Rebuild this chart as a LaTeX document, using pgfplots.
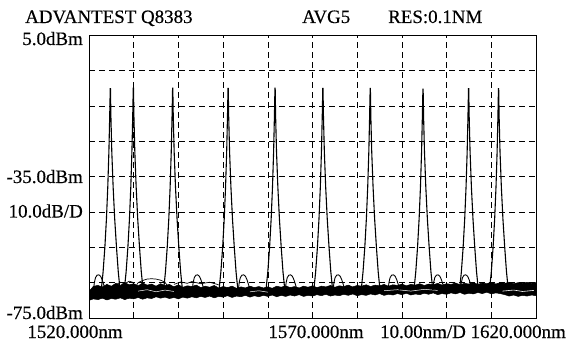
\documentclass[border=0pt]{standalone}
\usepackage{fontspec}
\setmainfont[FakeBold=0.4]{Liberation Serif}
\usepackage{pgfplots}
\pgfplotsset{compat=1.18}
\begin{document}
\begin{tikzpicture}
\begin{axis}[
  at={(89bp,25bp)}, anchor=south west,
  scale only axis, width=447bp, height=283bp,
  xmin=1520, xmax=1620, ymin=-75, ymax=5,
  xtick={1530,1540,...,1610}, ytick={-65,-55,...,-5},
  xticklabels={}, yticklabels={},
  major tick length=0pt,
  grid=major,
  major grid style={black, line width=0.5pt, dash pattern=on 6bp off 4bp},
  axis line style={line width=1pt},
  clip=true,
]
% noise band (envelope of overlaid sweeps): upper edge forward, lower edge back
\addplot[fill=black, draw=black, line width=0.5pt] table {
1520 -67.5
1521 -66.0
1522 -65.8
1523 -66.2
1524 -65.5
1525 -66.0
1526 -65.2
1527 -65.8
1528 -65.0
1529 -65.6
1530 -65.3
1531 -65.9
1532 -65.1
1533 -65.7
1534 -65.4
1535 -66.0
1536 -65.3
1537 -65.8
1538 -65.5
1539 -66.2
1540 -65.6
1541 -66.3
1542 -65.9
1543 -66.1
1544 -65.7
1545 -66.4
1546 -66.0
1547 -66.3
1548 -65.8
1549 -66.5
1550 -66.1
1551 -66.4
1552 -66.0
1553 -66.6
1554 -66.2
1555 -66.5
1556 -66.0
1557 -66.4
1558 -66.1
1559 -66.5
1560 -66.2
1561 -66.6
1562 -66.0
1563 -66.3
1564 -65.9
1565 -66.4
1566 -66.1
1567 -66.5
1568 -66.0
1569 -66.3
1570 -65.9
1571 -66.4
1572 -66.0
1573 -66.2
1574 -65.8
1575 -66.3
1576 -65.9
1577 -66.1
1578 -65.7
1579 -66.2
1580 -65.8
1581 -66.0
1582 -65.6
1583 -66.1
1584 -65.7
1585 -65.9
1586 -65.5
1587 -66.0
1588 -65.6
1589 -65.8
1590 -65.4
1591 -65.9
1592 -65.5
1593 -65.7
1594 -65.3
1595 -65.8
1596 -65.4
1597 -65.6
1598 -65.2
1599 -65.7
1600 -65.3
1601 -65.5
1602 -65.1
1603 -65.6
1604 -65.2
1605 -65.4
1606 -65.0
1607 -65.5
1608 -65.1
1609 -65.3
1610 -64.9
1611 -65.4
1612 -65.0
1613 -65.2
1614 -64.9
1615 -65.3
1616 -65.0
1617 -65.2
1618 -64.9
1619 -65.2
1620 -65.0
1620 -68.7
1619 -68.5
1618 -68.8
1617 -68.6
1616 -68.9
1615 -68.5
1614 -68.8
1613 -68.4
1612 -68.1
1611 -67.9
1610 -68.2
1609 -67.7
1608 -68.1
1607 -67.8
1606 -68.2
1605 -68.0
1604 -68.3
1603 -67.8
1602 -68.2
1601 -67.9
1600 -68.3
1599 -68.1
1598 -68.4
1597 -67.9
1596 -68.3
1595 -68.0
1594 -68.4
1593 -68.2
1592 -68.5
1591 -68.0
1590 -68.4
1589 -68.1
1588 -68.5
1587 -68.3
1586 -68.6
1585 -68.1
1584 -68.5
1583 -68.2
1582 -68.6
1581 -68.4
1580 -68.7
1579 -68.2
1578 -68.6
1577 -68.3
1576 -68.7
1575 -68.5
1574 -68.8
1573 -68.3
1572 -68.7
1571 -68.4
1570 -68.8
1569 -68.6
1568 -68.9
1567 -68.4
1566 -68.8
1565 -68.5
1564 -68.9
1563 -68.6
1562 -69.0
1561 -68.5
1560 -68.9
1559 -68.6
1558 -69.0
1557 -68.7
1556 -69.1
1555 -68.6
1554 -69.0
1553 -68.8
1552 -69.2
1551 -68.7
1550 -69.1
1549 -68.9
1548 -69.3
1547 -68.8
1546 -69.2
1545 -68.9
1544 -69.3
1543 -69.0
1542 -69.4
1541 -69.1
1540 -69.6
1539 -69.2
1538 -69.5
1537 -69.1
1536 -69.4
1535 -69.0
1534 -69.5
1533 -69.3
1532 -69.7
1531 -69.2
1530 -69.6
1529 -69.4
1528 -69.8
1527 -69.3
1526 -69.7
1525 -69.5
1524 -69.9
1523 -69.4
1522 -69.8
1521 -69.6
1520 -70.0
1520 -67.5
};
% white streaks inside the band
\addplot[white, line width=0.5pt] coordinates {(1531,-67.4) (1533,-67.0) (1535,-67.6) (1537,-67.1) (1539,-67.5)};
\addplot[white, line width=0.5pt] coordinates {(1556,-67.6) (1558,-67.3) (1560,-67.7)};
\addplot[white, line width=0.5pt] coordinates {(1586,-67.3) (1589,-67.0) (1592,-67.4) (1595,-66.9) (1598,-67.2)};
\addplot[white, line width=0.6pt] coordinates {(1612.5,-67.4) (1615,-67.1) (1617,-67.5) (1619.5,-67.2)};
% extra sweeps above the band on the left
\addplot[black, line width=0.7pt] coordinates {(1530.5,-66.0) (1531,-65.0) (1532,-64.4) (1533,-64.0) (1534,-63.9) (1535,-64.0) (1536,-64.3) (1537,-64.9) (1537.6,-66.0)};
\addplot[black, line width=0.7pt] coordinates {(1526,-65.6) (1527,-64.9) (1528,-65.3) (1529,-64.6) (1530,-65.0)};
\addplot[black, line width=0.7pt] coordinates {(1539,-65.5) (1540.5,-64.8) (1542,-65.2) (1543,-64.7) (1545,-65.3) (1547,-64.9) (1549,-65.6)};
% satellite humps
\addplot[black, line width=0.9pt] coordinates {(1521.0,-67) (1521.2,-65) (1521.45,-63.6) (1521.8,-62.9) (1522.2,-62.8) (1522.6,-63.2) (1522.95,-64.2) (1523.3,-65.6) (1523.6,-67)};
\addplot[black, line width=0.9pt] coordinates {(1543.1,-67) (1543.3,-65) (1543.55,-63.6) (1543.9,-62.9) (1544.3,-62.8) (1544.7,-63.2) (1545.05,-64.2) (1545.4,-65.6) (1545.7,-67)};
\addplot[black, line width=0.9pt] coordinates {(1553.4,-67) (1553.6,-65) (1553.85,-63.6) (1554.2,-62.9) (1554.6,-62.8) (1555.0,-63.2) (1555.35,-64.2) (1555.7,-65.6) (1556.0,-67)};
\addplot[black, line width=0.9pt] coordinates {(1563.9,-67) (1564.1,-65) (1564.35,-63.6) (1564.7,-62.9) (1565.1,-62.8) (1565.5,-63.2) (1565.85,-64.2) (1566.2,-65.6) (1566.5,-67)};
\addplot[black, line width=0.9pt] coordinates {(1574.6,-67) (1574.8,-65) (1575.05,-63.6) (1575.4,-62.9) (1575.8,-62.8) (1576.2,-63.2) (1576.55,-64.2) (1576.9,-65.6) (1577.2,-67)};
\addplot[black, line width=0.9pt] coordinates {(1586.9,-67) (1587.1,-65) (1587.35,-63.6) (1587.7,-62.9) (1588.1,-62.8) (1588.5,-63.2) (1588.85,-64.2) (1589.2,-65.6) (1589.5,-67)};
\addplot[black, line width=0.9pt] coordinates {(1596.9,-67) (1597.1,-65) (1597.35,-63.6) (1597.7,-62.9) (1598.1,-62.8) (1598.5,-63.2) (1598.85,-64.2) (1599.2,-65.6) (1599.5,-67)};
\addplot[black, line width=0.9pt] coordinates {(1603.1,-67) (1603.3,-65) (1603.55,-63.6) (1603.9,-62.9) (1604.3,-62.8) (1604.7,-63.2) (1605.05,-64.2) (1605.4,-65.6) (1605.7,-67)};
% channel peaks
\addplot[black, line width=1.1pt] coordinates {(1522.75,-67) (1523.15,-62) (1523.55,-55) (1523.90,-47) (1524.20,-38) (1524.45,-28) (1524.63,-18) (1524.75,-10.2) (1524.80,-10.2) (1524.90,-18) (1525.10,-28) (1525.40,-38) (1525.75,-47) (1526.15,-55) (1526.55,-62) (1526.95,-67)};
\addplot[black, line width=1.1pt] coordinates {(1527.90,-67) (1528.30,-62) (1528.70,-55) (1529.05,-47) (1529.35,-38) (1529.60,-28) (1529.78,-18) (1529.90,-10.0) (1529.95,-10.0) (1530.05,-18) (1530.25,-28) (1530.55,-38) (1530.90,-47) (1531.30,-55) (1531.70,-62) (1532.10,-67)};
\addplot[black, line width=1.1pt] coordinates {(1536.70,-67) (1537.10,-62) (1537.50,-55) (1537.85,-47) (1538.15,-38) (1538.40,-28) (1538.58,-18) (1538.70,-10.0) (1538.75,-10.0) (1538.85,-18) (1539.05,-28) (1539.35,-38) (1539.70,-47) (1540.10,-55) (1540.50,-62) (1540.90,-67)};
\addplot[black, line width=1.1pt] coordinates {(1549.10,-67) (1549.50,-62) (1549.90,-55) (1550.25,-47) (1550.55,-38) (1550.80,-28) (1550.98,-18) (1551.10,-10.1) (1551.15,-10.1) (1551.25,-18) (1551.45,-28) (1551.75,-38) (1552.10,-47) (1552.50,-55) (1552.90,-62) (1553.30,-67)};
\addplot[black, line width=1.1pt] coordinates {(1559.60,-67) (1560.00,-62) (1560.40,-55) (1560.75,-47) (1561.05,-38) (1561.30,-28) (1561.48,-18) (1561.60,-10.0) (1561.65,-10.0) (1561.75,-18) (1561.95,-28) (1562.25,-38) (1562.60,-47) (1563.00,-55) (1563.40,-62) (1563.80,-67)};
\addplot[black, line width=1.1pt] coordinates {(1570.30,-67) (1570.70,-62) (1571.10,-55) (1571.45,-47) (1571.75,-38) (1572.00,-28) (1572.18,-18) (1572.30,-10.1) (1572.35,-10.1) (1572.45,-18) (1572.65,-28) (1572.95,-38) (1573.30,-47) (1573.70,-55) (1574.10,-62) (1574.50,-67)};
\addplot[black, line width=1.1pt] coordinates {(1580.90,-67) (1581.30,-62) (1581.70,-55) (1582.05,-47) (1582.35,-38) (1582.60,-28) (1582.78,-18) (1582.90,-10.1) (1582.95,-10.1) (1583.05,-18) (1583.25,-28) (1583.55,-38) (1583.90,-47) (1584.30,-55) (1584.70,-62) (1585.10,-67)};
\addplot[black, line width=1.1pt] coordinates {(1592.70,-67) (1593.10,-62) (1593.50,-55) (1593.85,-47) (1594.15,-38) (1594.40,-28) (1594.58,-18) (1594.70,-10.3) (1594.75,-10.3) (1594.85,-18) (1595.05,-28) (1595.35,-38) (1595.70,-47) (1596.10,-55) (1596.50,-62) (1596.90,-67)};
\addplot[black, line width=1.1pt] coordinates {(1602.90,-67) (1603.30,-62) (1603.70,-55) (1604.05,-47) (1604.35,-38) (1604.60,-28) (1604.78,-18) (1604.90,-10.2) (1604.95,-10.2) (1605.05,-18) (1605.25,-28) (1605.55,-38) (1605.90,-47) (1606.30,-55) (1606.70,-62) (1607.10,-67)};
\addplot[black, line width=1.1pt] coordinates {(1609.60,-67) (1610.00,-62) (1610.40,-55) (1610.75,-47) (1611.05,-38) (1611.30,-28) (1611.48,-18) (1611.60,-10.2) (1611.65,-10.2) (1611.75,-18) (1611.95,-28) (1612.25,-38) (1612.60,-47) (1613.00,-55) (1613.40,-62) (1613.80,-67)};
\end{axis}
\begin{scope}[every node/.style={inner sep=0pt, font=\fontsize{19}{21}\selectfont}]
\node[anchor=base west] at (25bp,320bp) {ADVANTEST Q8383};
\node[anchor=base west] at (302bp,320bp) {AVG5};
\node[anchor=base west] at (388bp,320bp) {RES:0.1NM};
\node[anchor=base east] at (83bp,298bp) {5.0dBm};
\node[anchor=base east] at (83bp,160bp) {-35.0dBm};
\node[anchor=base east] at (83bp,125.5bp) {10.0dB/D};
\node[anchor=base east] at (83bp,24bp) {-75.0dBm};
\node[anchor=base] at (75bp,5bp) {1520.000nm};
\node[anchor=base] at (316bp,5bp) {1570.000nm};
\node[anchor=base] at (423bp,5bp) {10.00nm/D};
\node[anchor=base east] at (566bp,5bp) {1620.000nm};
\end{scope}
\path[use as bounding box] (0,0) rectangle (567bp,343bp);
\end{tikzpicture}
\end{document}
